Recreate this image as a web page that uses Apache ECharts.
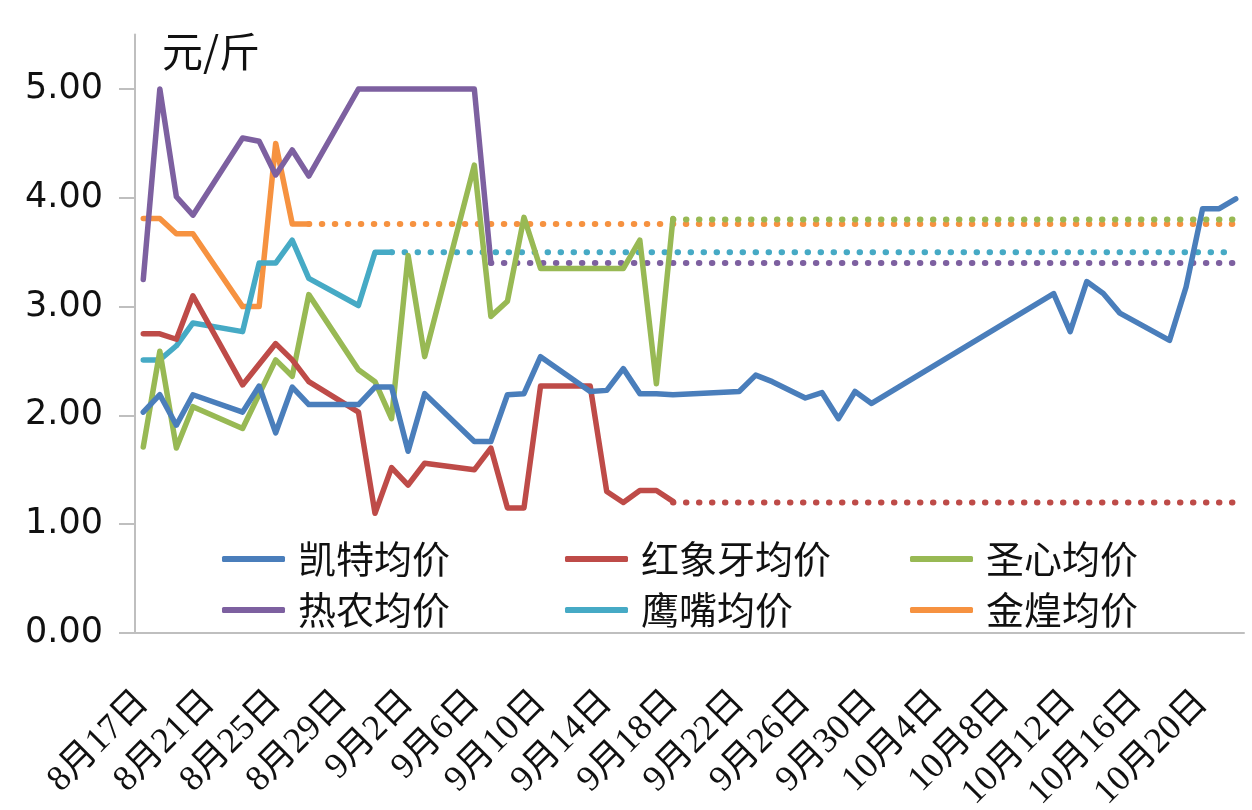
<!DOCTYPE html>
<html><head><meta charset="utf-8">
<script src="https://cdn.jsdelivr.net/npm/echarts@6/dist/echarts.min.js"></script>
<style>html,body{margin:0;padding:0;background:#fff}#c{width:1252px;height:810px}</style>
</head><body><div id="c"></div>
<script>
const categories = [
 '8月17日','8月18日','8月19日','8月20日','8月21日','8月22日','8月23日','8月24日','8月25日','8月26日',
 '8月27日','8月28日','8月29日','8月30日','8月31日',
 '9月1日','9月2日','9月3日','9月4日','9月5日','9月6日','9月7日','9月8日','9月9日','9月10日',
 '9月11日','9月12日','9月13日','9月14日','9月15日','9月16日','9月17日','9月18日','9月19日','9月20日',
 '9月21日','9月22日','9月23日','9月24日','9月25日','9月26日','9月27日','9月28日','9月29日','9月30日',
 '10月1日','10月2日','10月3日','10月4日','10月5日','10月6日','10月7日','10月8日','10月9日','10月10日',
 '10月11日','10月12日','10月13日','10月14日','10月15日','10月16日','10月17日','10月18日','10月19日','10月20日',
 '10月21日','10月22日'
];
const yTicks = [0, 1, 2, 3, 4, 5];
const seriesNames = ['凯特均价','红象牙均价','圣心均价','热农均价','鹰嘴均价','金煌均价'];
const seriesColors = ['#4A7EBB','#BE4B48','#98B954','#7D60A0','#46AAC5','#F69240'];

const kaite = [
 2.03,2.19,1.91,2.19,null,null,2.03,2.27,1.84,2.26,
 2.10,null,null,2.10,2.26,2.26,1.67,2.20,null,null,
 1.76,1.76,2.19,2.20,2.54,null,null,2.22,2.23,2.43,
 2.20,2.20,2.19,null,null,null,2.22,2.37,2.31,null,
 2.16,2.21,1.97,2.22,2.11,null,null,null,null,null,
 null,null,null,null,null,3.12,2.77,3.23,3.12,2.94,
 null,null,2.69,3.18,3.90,3.90,3.99
];
const hongxiangya = [
 2.75,2.75,2.70,3.10,null,null,2.28,null,2.66,2.51,
 2.31,null,null,2.03,1.10,1.52,1.36,1.56,null,null,
 1.50,1.70,1.15,1.15,2.27,null,null,2.27,1.30,1.20,
 1.31,1.31,1.21
];
const shengxin = [
 1.71,2.59,1.70,2.08,null,null,1.88,null,2.51,2.36,
 3.11,null,null,2.42,2.31,1.97,3.47,2.54,null,null,
 4.30,2.91,3.05,3.82,3.35,null,null,null,null,3.35,
 3.61,2.29,3.81
];
const renong = [
 3.25,5.00,4.01,3.84,null,null,4.55,4.52,4.21,4.44,
 4.20,null,null,5.00,null,null,null,null,null,null,
 5.00,3.40
];
const yingzui = [
 2.51,2.51,2.64,2.85,null,null,2.77,3.40,3.40,3.61,
 3.26,null,null,3.01,3.50,3.50
];
const jinhuang = [
 3.81,3.81,3.67,3.67,null,null,3.00,3.00,4.50,3.76,
 3.76
];
// dotted continuation (fixed price) : [start date, value], [end date, value]
const hongxiangyaDot = [['9月18日', 1.20], ['10月22日', 1.20]];
const shengxinDot   = [['9月18日', 3.80], ['10月22日', 3.80]];
const renongDot     = [['9月7日', 3.40], ['10月22日', 3.40]];
const yingzuiDot    = [['9月1日', 3.50], ['10月22日', 3.50]];
const jinhuangDot   = [['8月27日', 3.76], ['10月22日', 3.76]];

const solidData = [kaite, hongxiangya, shengxin, renong, yingzui, jinhuang];
const dotData = [null, hongxiangyaDot, shengxinDot, renongDot, yingzuiDot, jinhuangDot];

const series = [];
[5,4,3,2,1].forEach(i => {
  series.push({
    name: seriesNames[i], type: 'line', data: dotData[i], symbol: 'none',
    color: seriesColors[i],
    lineStyle: { width: 6, color: seriesColors[i], type: [0.5, 12.5], cap: 'round' },
    silent: true
  });
});
[5,4,3,2,1,0].forEach(i => {
  series.push({
    name: seriesNames[i], type: 'line', data: solidData[i], symbol: 'none',
    connectNulls: true, color: seriesColors[i],
    lineStyle: { width: 5.5, color: seriesColors[i], join: 'round', cap: 'round' }
  });
});

const legendPos = [[222,537],[565,537],[910,537],[222,588],[565,588],[910,588]];
const legends = seriesNames.map((n, i) => ({
  data: [{ name: n, icon: 'roundRect' }],
  left: legendPos[i][0], top: legendPos[i][1], padding: 0,
  itemWidth: 63, itemHeight: 6,
  textStyle: { fontFamily: 'Noto Sans CJK SC', fontSize: 38, lineHeight: 44, color: '#111', padding: [0,0,0,8] }
}));

const chart = echarts.init(document.getElementById('c'), null, { renderer: 'canvas' });
chart.setOption({
  animation: false,
  backgroundColor: '#fff',
  grid: { left: 135, right: 8, top: 34.6, bottom: 177, containLabel: false, outerBoundsMode: 'none' },
  legend: legends,
  graphic: [{ type: 'text', left: 162, top: 31,
    style: { text: '元/斤', fontFamily: 'Noto Sans CJK SC', fontSize: 41, fill: '#111' } }],
  xAxis: {
    type: 'category', data: categories, boundaryGap: true,
    axisLine: { lineStyle: { color: '#bfbfbf', width: 2 } },
    axisTick: { interval: 3, length: 14, lineStyle: { color: '#bfbfbf', width: 2 } },
    axisLabel: { interval: 3, rotate: 45, margin: 64, fontFamily: 'Liberation Serif, Noto Sans CJK SC, serif', fontSize: 36, color: '#111' },
    splitLine: { show: false }
  },
  yAxis: {
    type: 'value', min: 0, max: 5.5, interval: 1,
    axisLine: { show: true, lineStyle: { color: '#bfbfbf', width: 2 } },
    axisTick: { show: true, length: 16, customValues: yTicks, lineStyle: { color: '#bfbfbf', width: 2 } },
    axisLabel: { customValues: yTicks, formatter: v => v.toFixed(2), margin: 32, fontFamily: 'DejaVu Sans', fontSize: 35, color: '#111' },
    splitLine: { show: false }
  },
  series: series
});
</script>
</body></html>
